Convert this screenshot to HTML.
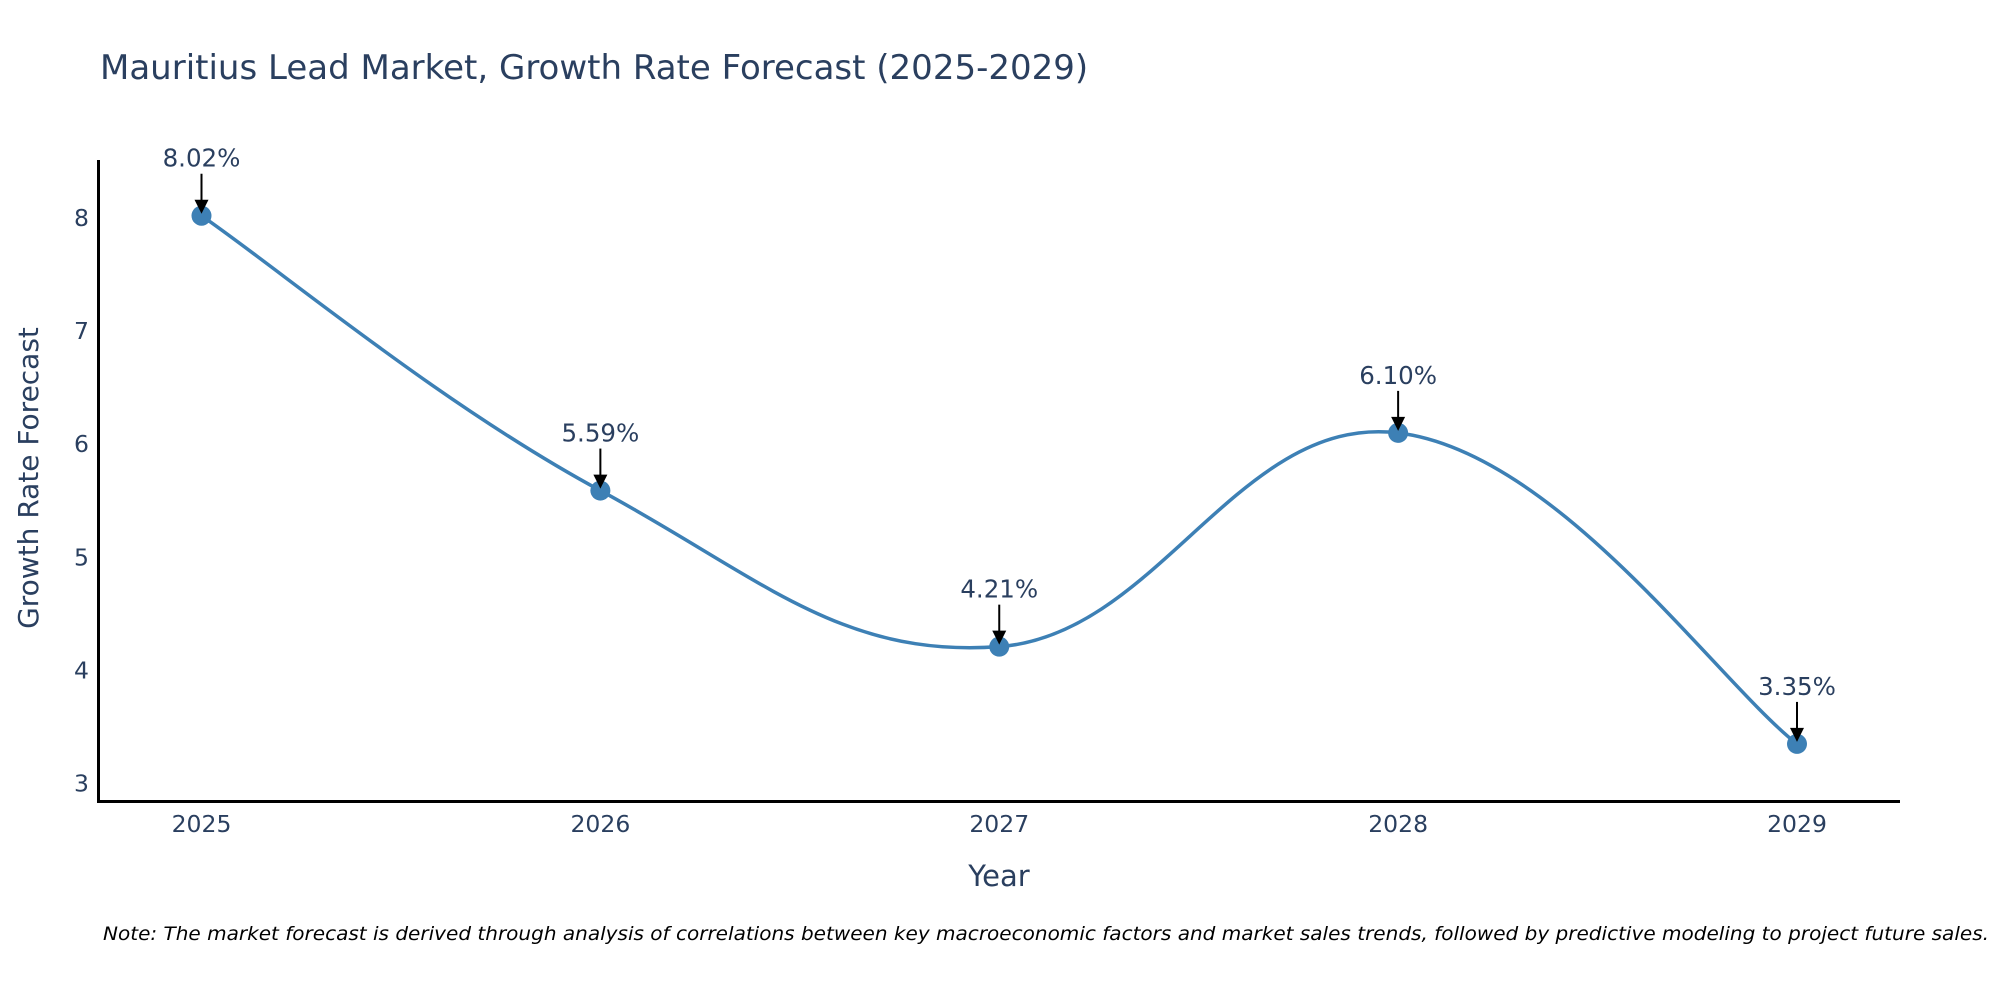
<!DOCTYPE html>
<html><head><meta charset="utf-8"><style>
html,body{margin:0;padding:0;background:#fff;}
svg{display:block;font-family:"DejaVu Sans","Liberation Sans",sans-serif;}
</style></head><body>
<svg id="chart" width="2000" height="1000" viewBox="0 0 2000 1000">
<text x="100" y="79" font-size="34" fill="#2a3f5f">Mauritius Lead Market, Growth Rate Forecast (2025-2029)</text>
<g id="yticks"></g><g id="xticks"></g>
<line x1="98.5" y1="160" x2="98.5" y2="803" stroke="#000" stroke-width="3"/>
<line x1="97" y1="801.5" x2="1900" y2="801.5" stroke="#000" stroke-width="3"/>
<g id="series"></g><g id="annots"></g>
<text x="999" y="886" font-size="29" fill="#2a3f5f" text-anchor="middle">Year</text>
<text transform="translate(38,478) rotate(-90)" font-size="28" fill="#2a3f5f" text-anchor="middle">Growth Rate Forecast</text>
<text x="103" y="940" font-size="19" font-style="italic" fill="#000" textLength="1886" lengthAdjust="spacingAndGlyphs">Note: The market forecast is derived through analysis of correlations between key macroeconomic factors and market sales trends, followed by predictive modeling to project future sales.</text>
</svg>
<script>
const years = ["2025","2026","2027","2028","2029"];
const values = [8.02, 5.59, 4.21, 6.10, 3.35];
const valueLabels = ["8.02%","5.59%","4.21%","6.10%","3.35%"];
const yTicks = [3,4,5,6,7,8];

const NS = "http://www.w3.org/2000/svg";
function X(i){ return 201.5 + i*(1797-201.5)/4; }
function Y(v){ return 218 + (8 - v)*113.1; }
function mk(tag, attrs, parent){ const e=document.createElementNS(NS,tag); for(const k in attrs) e.setAttribute(k,attrs[k]); parent.appendChild(e); return e; }

const yt=document.getElementById('yticks');
yTicks.forEach(t=>{
  const e=mk('text',{x:89,y:Y(t)+8,'font-size':23.5,fill:'#2a3f5f','text-anchor':'end'},yt);
  
  
  e.textContent=t;
});
const xt=document.getElementById('xticks');
years.forEach((y,i)=>{
  const e=mk('text',{x:X(i),y:832,'font-size':23.5,fill:'#2a3f5f','text-anchor':'middle'},xt);
  
  
  e.textContent=y;
});

const pts=values.map((v,i)=>[X(i),Y(v)]);
let d="M"+pts[0][0]+","+pts[0][1];
const s=0.6;
for(let i=0;i<pts.length-1;i++){
  const p0=pts[i-1]||pts[i], p1=pts[i], p2=pts[i+1], p3=pts[i+2]||pts[i+1];
  const c1=[p1[0]+(p2[0]-p0[0])*s/3, p1[1]+(p2[1]-p0[1])*s/3];
  const c2=[p2[0]-(p3[0]-p1[0])*s/3, p2[1]-(p3[1]-p1[1])*s/3];
  d+=" C"+c1+" "+c2+" "+p2;
}
const ser=document.getElementById('series');
const line=mk('path',{d:d,fill:'none',stroke:'#3d80b5','stroke-width':3.5},ser);


pts.forEach((p,i)=>{
  const c=mk('circle',{cx:p[0],cy:p[1],r:10,fill:'#3d80b5'},ser);
  
  
});
const an=document.getElementById('annots');
pts.forEach((p,i)=>{
  const a=mk('line',{x1:p[0],y1:p[1]-42,x2:p[0],y2:p[1]-14,stroke:'#000','stroke-width':2},an);
  
  
  const h=mk('path',{d:`M${p[0]-7},${p[1]-16} L${p[0]+7},${p[1]-16} L${p[0]},${p[1]-2} Z`,fill:'#000'},an);
  
  
  const t=mk('text',{x:p[0],y:p[1]-49,'font-size':24.5,fill:'#2a3f5f','text-anchor':'middle'},an);
  
  
  t.textContent=valueLabels[i];
});
</script>
</body></html>
